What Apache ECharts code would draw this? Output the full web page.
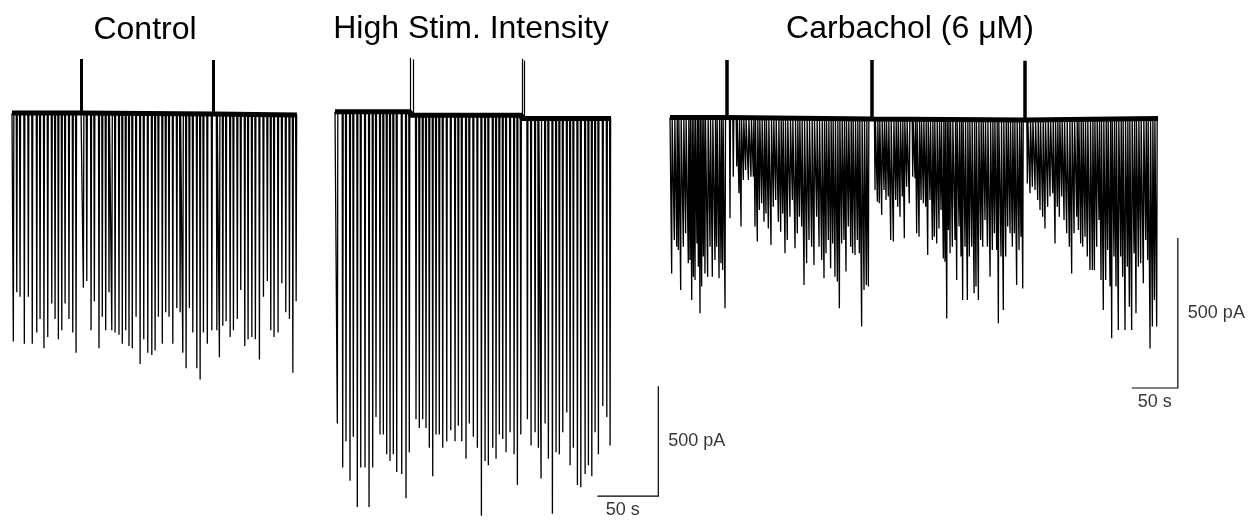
<!DOCTYPE html>
<html>
<head>
<meta charset="utf-8">
<script src="https://cdn.jsdelivr.net/npm/echarts@6/dist/echarts.min.js"></script>
<style>
  html, body { margin: 0; padding: 0; background: #fff; }
  #chart { width: 1259px; height: 529px; }
</style>
</head>
<body>
<div id="chart"></div>
<script>
// Panel titles
const titles = ['Control', 'High Stim. Intensity', 'Carbachol (6 \u03bcM)'];

// Scale bar values and tick labels
const scaleAmp = 500;   // pA
const scaleDur = 50;    // s
const scaleLabels = ['500 pA', '50 s'];

// ---- Control: spike times (s) and peak currents (pA)
const p1T = [1.1, 3.9, 6.6, 10.1, 13.4, 16.6, 20.3, 23.0, 26.2, 29.3, 32.6, 35.3, 38.0, 40.8, 43.5, 46.7, 49.8, 52.5,
  58.5, 61.3, 64.8, 67.5, 71.3, 74.0, 76.8, 79.5, 81.8, 84.5, 87.7, 90.4, 93.2, 95.9, 98.6, 101.7, 105.0, 108.0, 111.3,
  114.6, 117.3, 120.0, 123.2, 126.0, 128.7, 131.8, 135.1, 137.8, 140.0, 142.7, 145.4, 148.2, 151.5, 154.2, 156.9, 160.1, 163.8,
  167.9, 170.0, 172.8, 175.5, 178.8, 181.5, 184.7, 187.5, 190.8, 193.5, 196.6, 199.5, 202.8, 206.1, 209.3, 212.1, 214.8,
  218.1, 221.2, 224.4, 227.4, 230.2, 232.9];
const p1Peak = [-1020, -800, -820, -1030, -820, -1030, -980, -920, -1050, -1000, -850, -920, -1010, -970, -850, -920, -980, -1070,
  -780, -750, -970, -840, -1050, -910, -970, -800, -970, -980, -990, -1030, -970, -1040, -1050, -910, -1120, -1010, -1070,
  -1080, -1060, -910, -1030, -890, -910, -1030, -870, -890, -1070, -1140, -870, -980, -1140, -1190, -980, -1030, -970,
  -970, -1090, -950, -930, -1000, -970, -920, -790, -1040, -1010, -1000, -1010, -1100, -820, -750, -970, -1000,
  -980, -760, -890, -920, -1160, -840];
const p1ArtT = [56.6, 165.1];
const p1ArtTop = [241, 237];
const p1Base = [0, -5, -9];
const p1End = 233.6;

// ---- High stimulus intensity
const p2T = [1.9, 6.3, 9.0, 12.3, 15.0, 18.3, 21.1, 24.6, 27.9, 30.9, 33.6, 36.9, 39.6, 42.4, 45.1, 47.8, 50.6, 54.7, 58.2, 60.9,
  66.4, 69.1, 71.9, 74.6, 77.3, 80.1, 82.8, 85.5, 88.3, 91.6, 94.9, 98.4, 101.1, 103.9, 107.4, 110.1, 113.4, 116.7, 120.0, 123.0,
  125.7, 129.3, 132.0, 134.7, 137.5, 140.2, 143.5, 146.8, 149.5, 152.3,
  157.7, 160.7, 164.0, 166.7, 168.9, 172.2, 174.9, 178.2, 181.2, 183.9, 186.7, 190.0, 192.7, 195.4, 198.7, 201.5, 205.0, 207.7,
  210.5, 213.2, 215.9, 219.5, 222.8, 225.5];
const p2Peak = [-1420, -1620, -1500, -1680, -1480, -1800, -1620, -1620, -1800, -1620, -1390, -1470, -1470, -1560, -1590, -1560, -1640, -1650, -1760, -1550,
  -1400, -1440, -1400, -1440, -1530, -1660, -1470, -1470, -1530, -1500, -1450, -1500, -1430, -1500, -1580, -1420, -1480, -1530, -1840, -1590,
  -1610, -1530, -1580, -1470, -1490, -1550, -1460, -1560, -1700, -1470,
  -1400, -1520, -1460, -1530, -1670, -1420, -1580, -1830, -1550, -1560, -1460, -1370, -1610, -1530, -1700, -1710, -1650, -1610,
  -1660, -1460, -1560, -1340, -1390, -1520];
const p2ArtT = [61.8, 153.1];
const p2ArtTop = [246, 241];
const p2Base = [0, -16, -31];
const p2End = 226.3;

// ---- Carbachol (6 uM)
const p3T = [1.8, 4.7, 7.3, 9.1, 11.6, 14.5, 17.0, 19.9, 21.7, 23.6, 25.4, 27.2, 29.3, 30.8, 32.6, 34.4, 36.2, 38.0, 40.9, 43.5,
  46.0, 48.9, 50.7, 53.3, 55.4, 57.2, 59.8,
  65.2, 68.8, 72.5, 75.0, 77.2, 79.7, 82.2, 85.2, 88.0, 90.6, 92.4, 94.9, 97.1, 99.6, 102.2, 104.3, 106.9, 109.8, 112.3, 114.9,
  117.8, 120.3, 122.5, 125.0, 127.5, 130.4, 133.0, 135.9, 138.4, 140.6, 143.1, 145.7, 148.5, 151.1, 154.0, 156.5, 159.4, 162.0,
  164.9, 167.4, 169.6, 172.1, 174.6, 176.8, 179.3, 181.9, 184.1, 186.6, 189.1, 191.3, 193.8, 196.4, 198.5, 201.1, 203.6, 205.8,
  208.3, 210.9, 213.4, 215.6,
  222.8, 225.4, 227.5, 230.1, 232.6, 234.8, 237.3, 239.9, 242.8, 245.3, 247.5, 250.0, 252.5, 254.7, 257.2, 260.1, 263.8, 266.3,
  268.1, 270.7, 272.9, 275.4, 277.9, 280.1, 282.6, 285.2, 287.3, 289.9, 292.4, 294.6, 297.1, 298.9, 300.8, 302.6, 304.4, 306.9,
  309.8, 311.6, 314.2, 316.3, 318.1, 320.7, 323.2, 325.4, 327.9, 330.5, 332.6, 335.2, 337.7, 339.9, 342.4, 345.0, 347.9, 350.4,
  352.6, 355.1, 356.9, 359.8, 362.3, 364.9, 367.1, 369.6, 372.1, 374.3, 376.8, 379.4, 381.5, 383.4,
  388.4, 391.3, 393.9, 396.8, 399.7, 402.2, 405.1, 407.6, 410.5, 413.1, 416.0, 418.5, 421.0, 423.2, 425.7, 428.3, 431.2, 434.1,
  436.6, 439.2, 442.1, 443.9, 446.4, 448.6, 451.1, 453.6, 456.5, 459.1, 461.3, 463.8, 466.3, 468.5, 471.0, 473.6, 475.7, 478.3,
  480.1, 482.6, 484.8, 487.3, 489.9, 492.0, 494.6, 497.1, 499.3, 501.8, 504.4, 506.5, 509.1, 511.6, 514.5, 517.1, 519.2, 521.8,
  524.3, 526.5, 529.0];
const p3Peak = [-518, -407, -429, -440, -573, -429, -384, -484, -473, -607, -529, -540, -418, -496, -651, -562, -462, -518, -529, -429,
  -529, -473, -429, -534, -484, -507, -634,
  -334, -196, -162, -251, -362, -207, -173, -207, -196, -196, -362, -412, -307, -284, -346, -318, -368, -423, -296, -273,
  -346, -379, -318, -451, -407, -329, -273, -434, -384, -329, -362, -557, -484, -407, -429, -490, -329, -429,
  -473, -534, -451, -407, -501, -418, -529, -545, -634, -418, -407, -512, -362, -429, -451, -457, -407, -451,
  -695, -573, -557, -562,
  -240, -279, -284, -323, -240, -273, -262, -407, -412, -273, -296, -329, -262, -401, -229, -284, -196, -201,
  -384, -396, -273, -284, -296, -457, -273, -407, -396, -418, -368, -307, -468, -479, -668, -373, -451, -429,
  -407, -540, -362, -462, -607, -429, -607, -462, -429, -584, -562, -607, -407, -429, -340, -429, -529, -440,
  -384, -440, -684, -462, -640, -462, -362, -384, -429, -384, -557, -440, -396, -568,
  -218, -251, -229, -240, -273, -307, -329, -368, -296, -262, -251, -418, -296, -329, -262, -340, -384, -429,
  -518, -384, -329, -373, -418, -429, -396, -462, -507, -507, -507, -429, -340, -540, -640, -540, -440, -562,
  -734, -462, -562, -707, -462, -529, -707, -496, -629, -707, -451, -651, -496, -484, -551, -407, -473, -768,
  -695, -607, -695];
const p3ArtT = [61.6, 219.2, 385.9];
const p3ArtTop = [193, 193, 191];
const p3Base = [2, -3, -7, -2];
const p3End = 530.5;

// ---- layout: pixel of t=0 / 0 pA and px per unit for each panel
const panels = [
  { title: titles[0], tx: 145, ty: 30, x0: 12, y0: 113, sx: 1.22, sy: 0.224, tMin: -5, tMax: 245, vMin: -1300, vMax: 300,
    spT: p1T, spV: p1Peak, artT: p1ArtT, artTop: p1ArtTop, base: p1Base, end: p1End, artW: 3, artDouble: false, bar: null },
  { title: titles[1], tx: 471, ty: 29, x0: 335, y0: 113, sx: 1.22, sy: 0.224, tMin: -5, tMax: 300, vMin: -1900, vMax: 300,
    spT: p2T, spV: p2Peak, artT: p2ArtT, artTop: p2ArtTop, base: p2Base, end: p2End, artW: 1.2, artDouble: true,
    bar: [265, -1750], durShift: -5 },
  { title: titles[2], tx: 910, ty: 29, x0: 670, y0: 118, sx: 0.92, sy: 0.3, tMin: -5, tMax: 640, vMin: -1000, vMax: 250,
    spT: p3T, spV: p3Peak, artT: p3ArtT, artTop: p3ArtTop, base: p3Base, end: p3End, artW: 3.5, artDouble: false,
    bar: [552, -900], durShift: 0 }
];

// trace = baseline with a sharp downward deflection at each spike
function buildTrace(p) {
  const halfW = 0.5 / p.sx;
  const pts = [[0, p.base[0]]];
  let seg = 0;
  const flushArt = (t) => {
    while (seg < p.artT.length && t > p.artT[seg]) {
      pts.push([p.artT[seg], p.base[seg]]);
      seg++;
      pts.push([p.artT[seg - 1], p.base[seg]]);
    }
  };
  p.spT.forEach((t, i) => {
    flushArt(t);
    const b = p.base[seg];
    pts.push([t - halfW, b], [t, p.spV[i]], [t + halfW, b]);
  });
  flushArt(Infinity);
  pts.push([p.end, p.base[p.base.length - 1]]);
  return pts;
}

function buildBand(p) {
  const pts = [[0, p.base[0]]];
  p.artT.forEach((t, k) => {
    pts.push([t, p.base[k]], [t, p.base[k + 1]]);
  });
  pts.push([p.end, p.base[p.base.length - 1]]);
  return pts;
}

const FONT = '"Liberation Sans", Arial, sans-serif';
const grid = [], xAxis = [], yAxis = [], series = [], graphic = [];

panels.forEach((p, i) => {
  grid.push({
    left: p.x0 + p.tMin * p.sx,
    top: p.y0 - p.vMax * p.sy,
    width: (p.tMax - p.tMin) * p.sx,
    height: (p.vMax - p.vMin) * p.sy
  });
  xAxis.push({ type: 'value', gridIndex: i, min: p.tMin, max: p.tMax, show: false });
  yAxis.push({ type: 'value', gridIndex: i, min: p.vMin, max: p.vMax, show: false });

  const common = { xAxisIndex: i, yAxisIndex: i, silent: true, animation: false };

  // main trace
  series.push(Object.assign({
    type: 'line', data: buildTrace(p), showSymbol: false, symbol: 'none', clip: false,
    lineStyle: { color: '#000', width: 1.3 }
  }, common));

  // thick noisy baseline band
  series.push(Object.assign({
    type: 'line', data: buildBand(p), showSymbol: false, symbol: 'none', clip: false,
    lineStyle: { color: '#000', width: 5 }
  }, common));

  // stimulus artifacts (upward)
  const artLines = [];
  p.artT.forEach((t, k) => {
    artLines.push({ coords: [[t, p.base[k]], [t, p.artTop[k]]] });
    if (p.artDouble) artLines.push({ coords: [[t + 2.2, p.base[k + 1]], [t + 2.2, p.artTop[k] - 8]] });
  });
  series.push(Object.assign({
    type: 'lines', coordinateSystem: 'cartesian2d', data: artLines,
    lineStyle: { color: '#000', width: p.artW, opacity: 1 }
  }, common));

  // scale bar
  if (p.bar) {
    const [bt, bv] = p.bar;
    const lbl = { color: '#000', fontFamily: FONT, fontSize: 18 };
    series.push(Object.assign({
      type: 'lines', coordinateSystem: 'cartesian2d', polyline: true,
      data: [{ coords: [[bt, bv + scaleAmp], [bt, bv], [bt - scaleDur, bv]] }],
      lineStyle: { color: '#000', width: 1.2, opacity: 1 }
    }, common));
    series.push(Object.assign({
      type: 'scatter', symbolSize: 0, clip: false,
      data: [
        { value: [bt, bv + scaleAmp / 2], name: scaleLabels[0], label: Object.assign({ position: 'right', distance: 10 }, lbl) },
        { value: [bt - scaleDur / 2 + p.durShift / p.sx, bv], name: scaleLabels[1], label: Object.assign({ position: 'bottom', distance: 5 }, lbl) }
      ],
      label: Object.assign({ show: true, formatter: '{b}' }, lbl)
    }, common));
  }

  graphic.push({
    type: 'text', x: p.tx, y: p.ty, silent: true,
    style: {
      text: p.title, fill: '#000', align: 'center', verticalAlign: 'middle',
      font: '32px ' + FONT
    }
  });
});

const chart = echarts.init(document.getElementById('chart'));
chart.setOption({
  backgroundColor: '#fff',
  animation: false,
  grid: grid,
  xAxis: xAxis,
  yAxis: yAxis,
  series: series,
  graphic: graphic
});
</script>
</body>
</html>
